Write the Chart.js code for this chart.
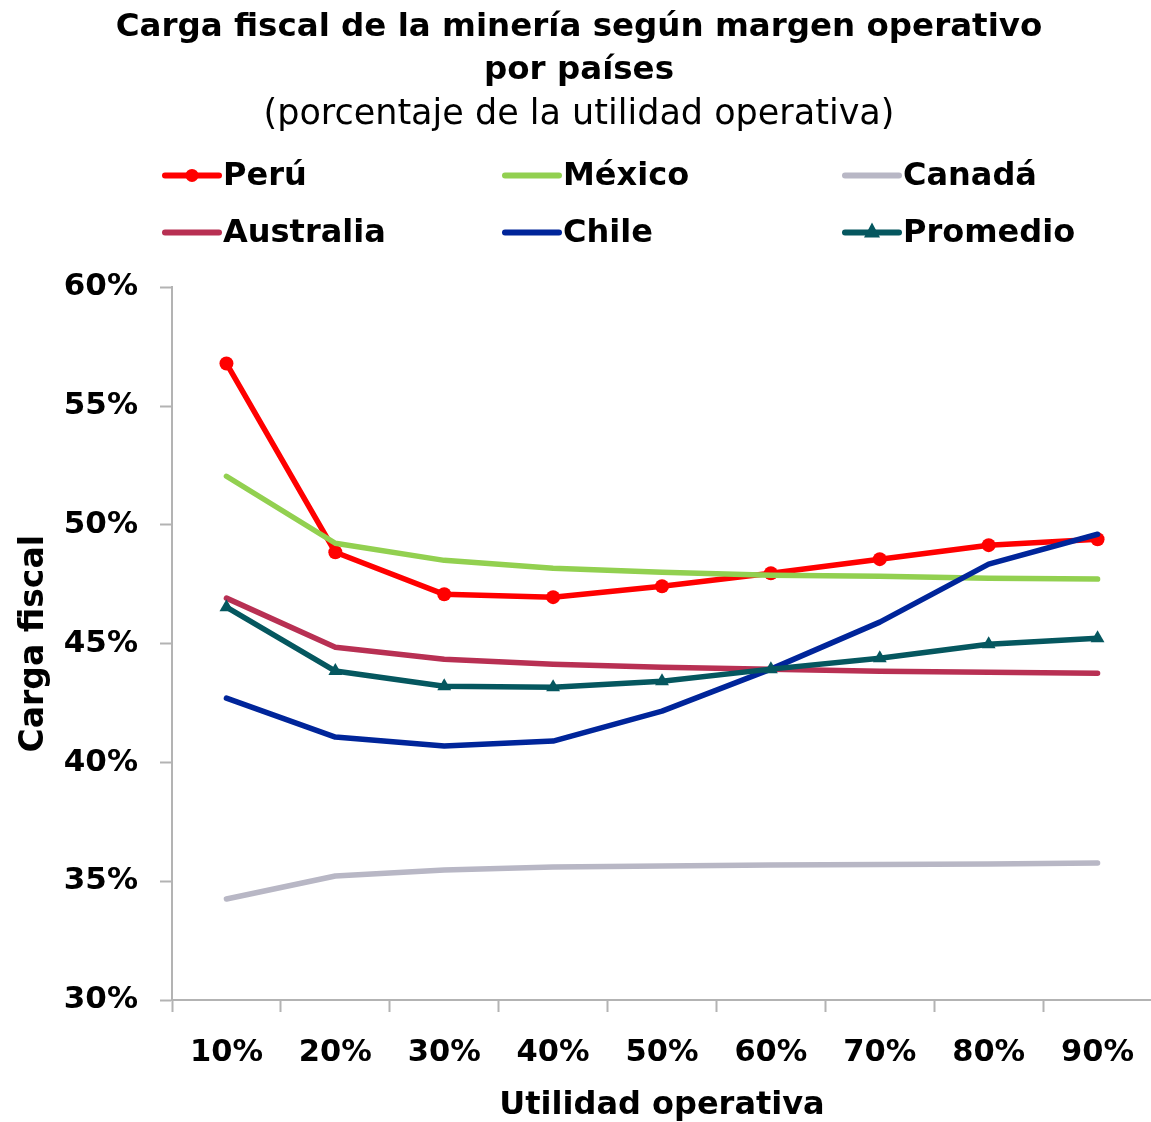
<!DOCTYPE html>
<html>
<head>
<meta charset="utf-8">
<script src="https://cdn.jsdelivr.net/npm/chart.js@4/dist/chart.umd.min.js"></script>
<style>
  html, body { margin: 0; padding: 0; background: #fff; overflow: hidden; }
  #wrap { width: 1160px; height: 1122px; }
</style>
</head>
<body>
<div id="wrap"><canvas id="c" width="1160" height="1122"></canvas></div>
<script>
const categories = ['10%', '20%', '30%', '40%', '50%', '60%', '70%', '80%', '90%'];
const peru      = [56.8, 48.85, 47.08, 46.96, 47.42, 47.97, 48.56, 49.15, 49.40];
const mexico    = [52.05, 49.23, 48.51, 48.18, 48.01, 47.88, 47.84, 47.76, 47.72];
const canada    = [34.25, 35.22, 35.47, 35.60, 35.64, 35.68, 35.70, 35.73, 35.77];
const australia = [46.92, 44.85, 44.35, 44.14, 44.01, 43.93, 43.84, 43.80, 43.76];
const chile     = [42.71, 41.07, 40.69, 40.90, 42.16, 43.93, 45.91, 48.35, 49.61];
const promedio  = [46.54, 43.85, 43.21, 43.17, 43.42, 43.93, 44.39, 44.98, 45.23];
const yTicks    = [30, 35, 40, 45, 50, 55, 60];

const FONT = '"DejaVu Sans", sans-serif';

const series = [
  { label: 'Perú', data: peru, color: '#FF0000', point: 'circle', r: 7 },
  { label: 'México', data: mexico, color: '#92D050', point: false },
  { label: 'Canadá', data: canada, color: '#B8B7C5', point: false },
  { label: 'Australia', data: australia, color: '#B83053', point: false },
  { label: 'Chile', data: chile, color: '#00259A', point: false },
  { label: 'Promedio', data: promedio, color: '#05575F', point: 'triangle', r: 8 }
];

const datasets = series.map((s, i) => ({
  label: s.label,
  data: s.data,
  borderColor: s.color,
  backgroundColor: s.color,
  borderWidth: 5.5,
  pointStyle: s.point || 'circle',
  pointRadius: s.point ? s.r : 0,
  pointHoverRadius: s.point ? s.r : 0,
  pointBorderWidth: 0,
  tension: 0,
  borderCapStyle: 'round',
  borderJoinStyle: 'round',
  order: series.length - i
}));

const legendPlugin = {
  id: 'customLegend',
  afterDraw(chart) {
    const ctx = chart.ctx;
    const top = chart.chartArea.top;
    const cols = [163, 503, 843];
    const rows = [top - 112, top - 55];
    ctx.save();
    ctx.font = 'bold 32px ' + FONT;
    ctx.textBaseline = 'middle';
    ctx.textAlign = 'left';
    series.forEach((s, i) => {
      const x = cols[i % 3];
      const y = rows[Math.floor(i / 3)];
      ctx.strokeStyle = s.color;
      ctx.lineWidth = 6;
      ctx.lineCap = 'round';
      ctx.beginPath();
      ctx.moveTo(x + 2, y);
      ctx.lineTo(x + 56, y);
      ctx.stroke();
      if (s.point === 'circle') {
        ctx.fillStyle = s.color;
        ctx.beginPath();
        ctx.arc(x + 29, y, 6.5, 0, Math.PI * 2);
        ctx.fill();
      } else if (s.point === 'triangle') {
        ctx.fillStyle = s.color;
        ctx.beginPath();
        ctx.moveTo(x + 29, y - 10);
        ctx.lineTo(x + 37, y + 5);
        ctx.lineTo(x + 21, y + 5);
        ctx.closePath();
        ctx.fill();
      }
      ctx.fillStyle = '#000';
      ctx.fillText(s.label, x + 60, y + 1);
    });
    ctx.restore();
  }
};

new Chart(document.getElementById('c'), {
  type: 'line',
  data: { labels: categories, datasets },
  plugins: [legendPlugin],
  options: {
    responsive: false,
    animation: false,
    layout: { padding: { top: 6, right: 2, left: 0, bottom: 0 } },
    plugins: {
      legend: { display: false },
      tooltip: { enabled: false },
      title: {
        display: true,
        text: ['Carga fiscal de la minería según margen operativo', 'por países'],
        font: { family: FONT, size: 32.5, weight: 'bold', lineHeight: 1.33 },
        color: '#000',
        padding: { top: 0, bottom: 0 }
      },
      subtitle: {
        display: true,
        text: '(porcentaje de la utilidad operativa)',
        font: { family: FONT, size: 35, weight: 'normal', lineHeight: 1.2 },
        color: '#000',
        padding: { top: 1, bottom: 152 }
      }
    },
    scales: {
      x: {
        type: 'category',
        offset: true,
        grid: {
          display: true,
          drawOnChartArea: false,
          drawTicks: true,
          tickLength: 12,
          tickWidth: 2,
          tickColor: '#B3B3B3',
          offset: true
        },
        border: { display: true, color: '#B3B3B3', width: 2 },
        ticks: {
          font: { family: FONT, size: 30.5, weight: 'bold' },
          color: '#000',
          padding: 23,
          maxRotation: 0,
          autoSkip: false
        },
        title: {
          display: true,
          text: 'Utilidad operativa',
          font: { family: FONT, size: 32, weight: 'bold' },
          color: '#000',
          padding: { top: 6, bottom: -3 }
        },
        afterFit(scale) { scale.height = 122; }
      },
      y: {
        min: 30,
        max: 60,
        afterBuildTicks(scale) { scale.ticks = yTicks.map(v => ({ value: v })); },
        grid: {
          display: true,
          drawOnChartArea: false,
          drawTicks: true,
          tickLength: 12,
          tickWidth: 2,
          tickColor: '#B3B3B3'
        },
        border: { display: true, color: '#B3B3B3', width: 2 },
        ticks: {
          font: { family: FONT, size: 31, weight: 'bold' },
          color: '#000',
          padding: 22,
          callback: v => v + '%'
        },
        title: {
          display: true,
          text: 'Carga fiscal',
          font: { family: FONT, size: 33, weight: 'bold' },
          color: '#000',
          padding: { top: 15, bottom: 0 }
        },
        afterFit(scale) { scale.width = 172; }
      }
    }
  }
});
</script>
</body>
</html>
